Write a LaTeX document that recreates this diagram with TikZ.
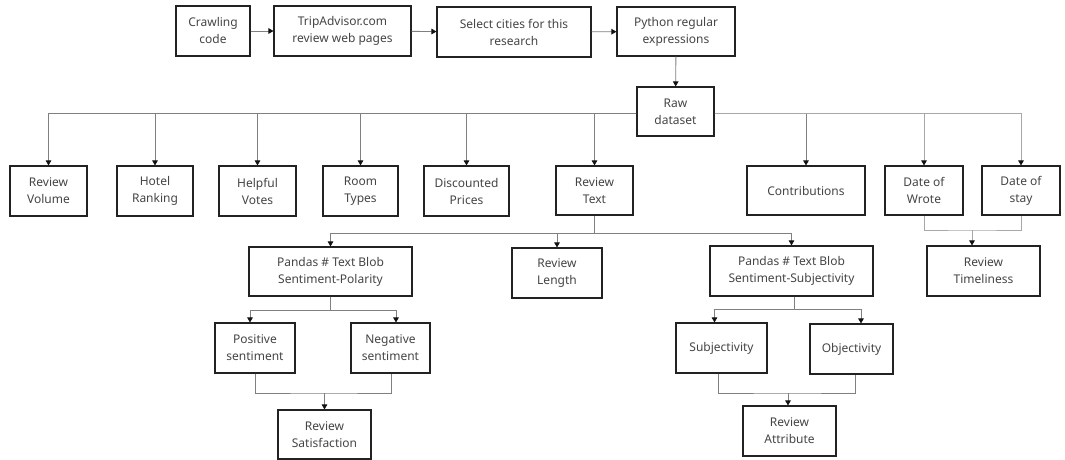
\documentclass[tikz,border=0pt]{standalone}
\usepackage{fontspec}
\setmainfont{Noto Sans}
\usetikzlibrary{arrows.meta}
\definecolor{txt}{HTML}{454545}
\definecolor{edge}{HTML}{222222}
\definecolor{conn}{HTML}{808080}
\definecolor{connlight}{HTML}{A8A8A8}
\definecolor{tip}{HTML}{111111}
\tikzset{
  box/.style={draw=edge, line width=1.1pt, fill=white, text=txt, inner sep=0pt, align=center,
    font=\fontsize{12}{17}\selectfont, minimum height=50pt},
  conline/.style={draw=conn, line width=0.9pt},
  arr/.style={conline, -{Triangle[width=5.5pt,length=5pt,color=tip]}},
  lightline/.style={draw=connlight, line width=0.9pt},
}
\begin{document}
\begin{tikzpicture}[x=1pt,y=-1pt]
\useasboundingbox (0,0) rectangle (1065,460);
% top row
\node[box, minimum width=74pt] (crawl) at (213,31) {Crawling\\code};
\node[box, minimum width=137pt] (trip) at (342.5,31) {TripAdvisor.com\\review web pages};
\node[box, minimum width=154pt] (select) at (514,32) {Select cities for this\\research};
\node[box, minimum width=118pt, minimum height=49pt] (python) at (676,31.5) {Python regular\\expressions};
\node[box, minimum width=77pt, minimum height=49pt] (raw) at (675.5,111.5) {Raw\\dataset};
% second row
\node[box, minimum width=77pt] (rv) at (48.5,191) {Review\\Volume};
\node[box, minimum width=76pt] (hr) at (155,191) {Hotel\\Ranking};
\node[box, minimum width=77pt] (hv) at (257.5,191) {Helpful\\Votes};
\node[box, minimum width=75pt] (rt) at (360.5,191) {Room\\Types};
\node[box, minimum width=85pt] (dp) at (466.5,191) {Discounted\\Prices};
\node[box, minimum width=77pt, minimum height=49pt] (rtext) at (594.5,190.5) {Review\\Text};
\node[box, minimum width=118pt, minimum height=49pt] (contrib) at (806,190.5) {Contributions};
\node[box, minimum width=78pt, minimum height=49pt] (dw) at (924,190.5) {Date of\\Wrote};
\node[box, minimum width=78pt, minimum height=49pt] (ds) at (1021,190.5) {Date of\\stay};
% third row
\node[box, minimum width=163pt, minimum height=49pt] (pol) at (330.5,271.5) {Pandas \# Text Blob\\Sentiment-Polarity};
\node[box, minimum width=90pt] (rl) at (557,273) {Review\\Length};
\node[box, minimum width=163pt] (subj) at (791.5,271) {Pandas \# Text Blob\\Sentiment-Subjectivity};
\node[box, minimum width=113pt] (timeli) at (983.5,271) {Review\\Timeliness};
% fourth row
\node[box, minimum width=80pt] (pos) at (255,348) {Positive\\sentiment};
\node[box, minimum width=79pt] (neg) at (390.5,348) {Negative\\sentiment};
\node[box, minimum width=91pt] (subjy) at (721.5,348) {Subjectivity};
\node[box, minimum width=83pt] (obj) at (851.5,349) {Objectivity};
% bottom row
\node[box, minimum width=93pt, minimum height=49pt] (sat) at (324.5,434.5) {Review\\Satisfaction};
\node[box, minimum width=93pt] (attr) at (789.5,431) {Review\\Attribute};
% top chain
\draw[arr] (crawl) -- (trip);
\draw[arr] (trip) -- (select);
\draw[arr] (select) -- (python);
\draw[arr] (python) -- (raw);
% raw dataset bus
\coordinate (rawL) at (raw.west |- 0,113);
\coordinate (rawR) at (raw.east |- 0,113);
\foreach \n in {rv,hr,hv,rt,dp,rtext} \draw[arr] (rawL) -| (\n.north);
\draw[arr] (rawR) -| (contrib.north);
\draw[arr, draw=connlight] (rawR) -| (dw.north);
\draw[arr, draw=connlight] (rawR) -| (ds.north);
% dates merge
\coordinate (dm) at (972,230);
\draw[lightline] (dw.south) |- (dm) -| (ds.south);
\draw[arr, draw=connlight] (dm) -- (dm |- timeli.north);
% review text fan-out
\coordinate (rth) at (rtext.south |- 0,233);
\draw[conline] (rtext.south) -- (rth);
\draw[arr] (rth) -| (pol.north);
\draw[arr] (rth) -| (rl.north);
\draw[arr] (rth) -| (subj.north);
% polarity branch
\coordinate (ph) at (pol.south |- 0,310);
\draw[conline] (pol.south) -- (ph);
\draw[arr] (ph) -| ([xshift=-5pt]pos.north);
\draw[arr] (ph) -| ([xshift=5.5pt]neg.north);
\coordinate (pm) at (sat.north |- 0,393);
\draw[conline] (pos.south) |- (pm) -| ([xshift=1pt]neg.south);
\draw[arr] (pm) -- (sat.north);
% subjectivity branch
\coordinate (sh) at ([xshift=3pt]subj.south |- 0,309);
\draw[conline] ([xshift=3pt]subj.south) -- (sh);
\draw[arr] (sh) -| ([xshift=-7pt]subjy.north);
\draw[arr] (sh) -| ([xshift=9.5pt]obj.north);
\coordinate (sm) at ([xshift=-1.5pt]attr.north |- 0,393);
\draw[conline] ([xshift=-3.5pt]subjy.south) |- (sm) -| ([xshift=3.5pt]obj.south);
\draw[arr] (sm) -- (sm |- attr.north);
\end{tikzpicture}
\end{document}
